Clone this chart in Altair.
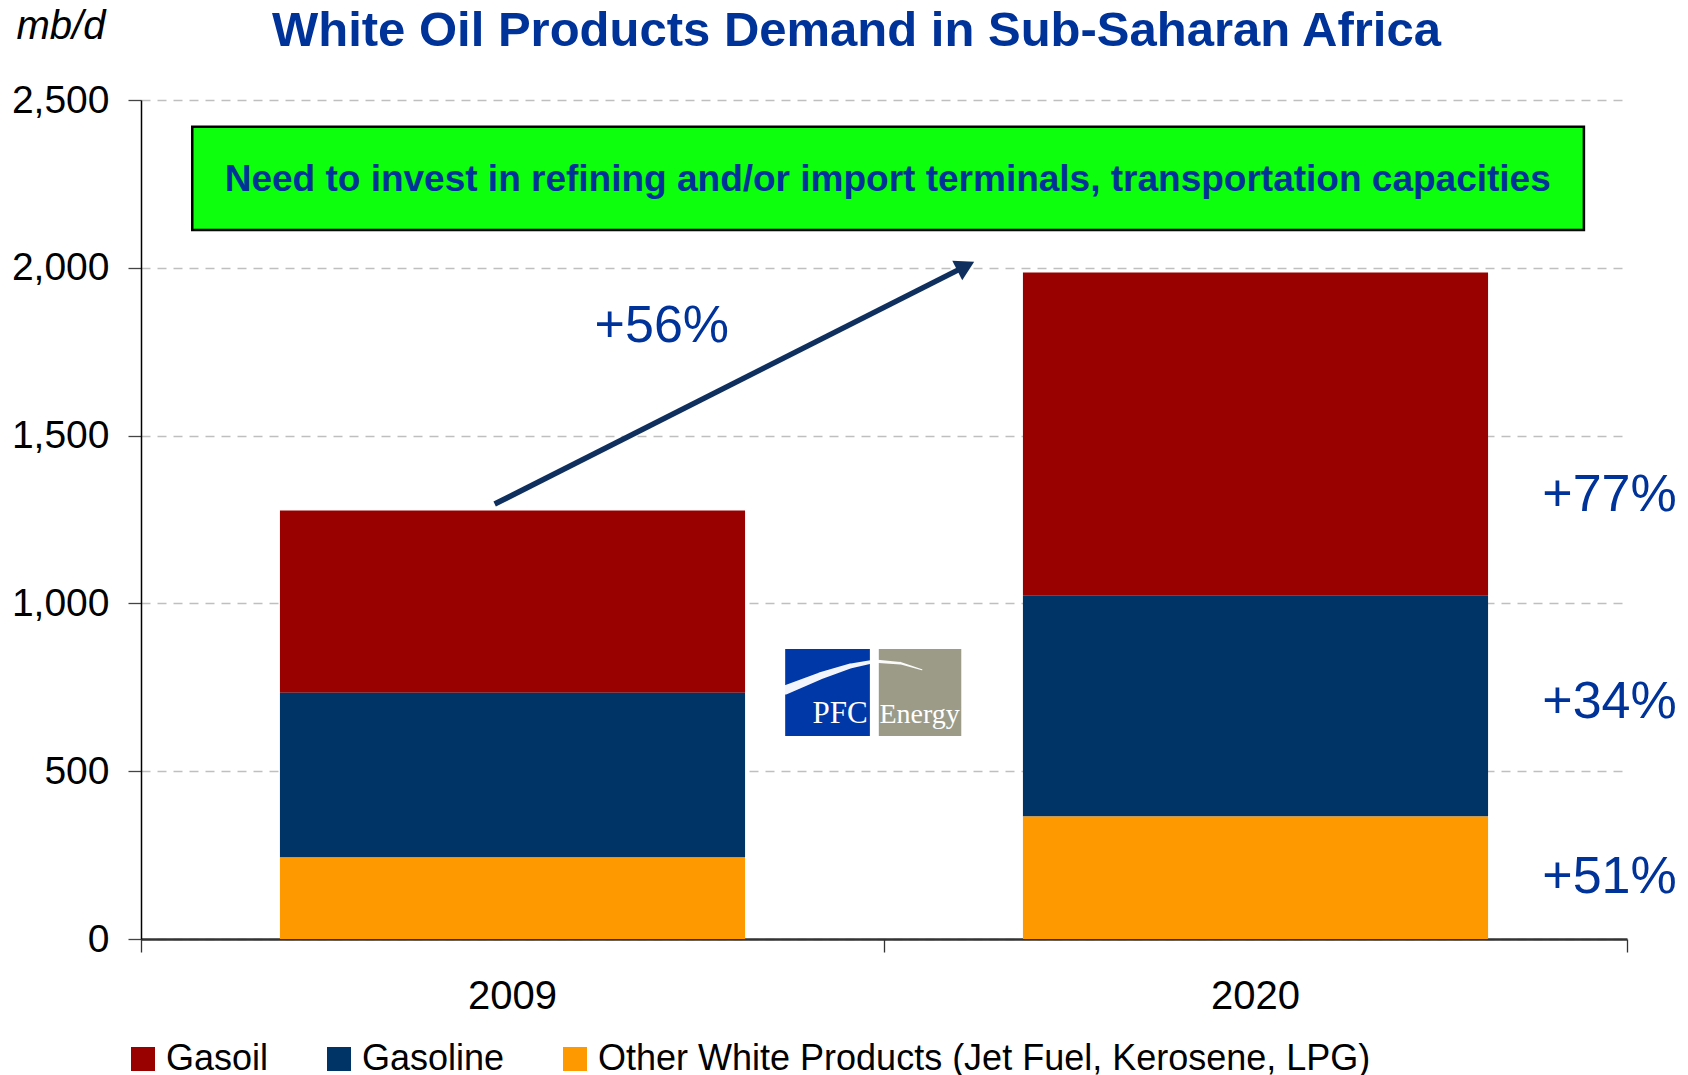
import altair as alt
import pandas as pd

# ---------------- data ----------------
years = ["2009", "2020"]
products = ["Gasoil", "Gasoline", "Other White Products (Jet Fuel, Kerosene, LPG)"]
gasoil = [543, 963]
gasoline = [491, 658]
other = [243, 365]
stack_rank = [3, 2, 1]          # Gasoil on top, Other at the bottom
colors = ["#990000", "#003366", "#FF9900"]

growth_labels = ["+77%", "+34%", "+51%"]
growth_x = [1.886, 1.886, 1.886]
growth_y = [1324, 705, 185]

total_label = ["+56%"]
total_label_x = [0.701]
total_label_y = [1827]

arrow_x = [0.476]
arrow_x2 = [1.11]
arrow_y = [1296]
arrow_y2 = [2005]

banner_text = ["Need to invest in refining and/or import terminals, transportation capacities"]
banner_x = [0.069]
banner_x2 = [1.942]
banner_y = [2113]
banner_y2 = [2420]
banner_text_x = [1.005]
banner_text_y = [2262]

logo_blue_x = [0.867]
logo_blue_x2 = [0.981]
logo_grey_x = [0.993]
logo_grey_x2 = [1.104]
logo_y = [605]
logo_y2 = [864]
logo_curve_x = [0.867, 0.914, 0.954, 0.988, 1.022, 1.051]
logo_curve_y = [742, 784, 813, 828, 822, 802]
logo_curve_w = [9, 7, 5, 3.5, 2.5, 1]
logo_words = ["PFC", "Energy"]
logo_words_x = [0.941, 1.048]
logo_words_y = [644, 644]
logo_words_size = [31, 28]

title_text = "White Oil Products Demand in Sub-Saharan Africa"

# ---------------- tables ----------------
rows = []
for i, yr in enumerate(years):
    for p, vals, r in zip(products, [gasoil, gasoline, other], stack_rank):
        rows.append({"year": yr, "product": p, "value": vals[i], "rank": r})
bars_df = pd.DataFrame(rows)

BLUE_TXT = "#003399"
XQ = alt.Scale(domain=[0, 2], nice=False, zero=False)
YQ = alt.Scale(domain=[0, 2500], nice=False)

Y_AXIS = alt.Axis(values=[0, 500, 1000, 1500, 2000, 2500],
                  labelExpr="format(datum.value, ',')",
                  labelFontSize=39, labelColor="black", labelPadding=19,
                  tickSize=13, tickColor="#444444", tickWidth=1.3,
                  domainColor="black", domainWidth=1.5,
                  grid=True, gridColor="#BFBFBF", gridDash=[9, 7], gridWidth=1.3,
                  title="mb/d", titleAngle=0, titleAlign="left", titleBaseline="alphabetic",
                  titleX=-125, titleY=-62, titleFontSize=40, titleFontStyle="italic",
                  titleFontWeight="normal", titleColor="black")


def qy(field):
    return alt.Y(field, scale=YQ, axis=Y_AXIS)


def qx(field):
    return alt.X(field, scale=XQ, axis=None)


bars = alt.Chart(bars_df).mark_bar().encode(
    x=alt.X("year:N", sort=years,
            scale=alt.Scale(paddingInner=0.374, paddingOuter=0.187),
            axis=alt.Axis(orient="bottom", title=None, labelAngle=0, ticks=False, tickSize=0,
                          labelPadding=37, labelFontSize=40, labelColor="black",
                          domainColor="#333333", domainWidth=2.5)),
    y=alt.Y("value:Q", stack="zero", scale=YQ, axis=Y_AXIS),
    color=alt.Color("product:N", scale=alt.Scale(domain=products, range=colors),
                    legend=alt.Legend(title=None, orient="none", legendX=-16, legendY=941,
                                      direction="horizontal", columns=3, columnPadding=52,
                                      symbolType="square", symbolSize=576, symbolStrokeWidth=0,
                                      symbolOpacity=1, labelFontSize=36, labelOffset=5,
                                      labelLimit=2000, labelColor="black", padding=0)),
    order=alt.Order("rank:Q", sort="ascending"),
)

banner_df = pd.DataFrame({"x": banner_x, "x2": banner_x2, "y": banner_y, "y2": banner_y2})
banner = alt.Chart(banner_df).mark_rect(fill="#0DFF0D", stroke="black", strokeWidth=2.5).encode(
    x=alt.X("x:Q", scale=XQ,
            axis=alt.Axis(orient="bottom", values=[0, 1, 2], labels=False, domain=False,
                          grid=False, ticks=True, tickSize=13, tickColor="#333333",
                          tickWidth=1.3, title=None)),
    x2="x2:Q",
    y=qy("y:Q"),
    y2="y2:Q",
)

banner_txt_df = pd.DataFrame({"x": banner_text_x, "y": banner_text_y, "t": banner_text})
banner_txt = alt.Chart(banner_txt_df).mark_text(
    font="Liberation Sans", fontWeight="bold",
    fontSize=37, color=BLUE_TXT, align="center", baseline="middle").encode(
    x=qx("x:Q"), y=qy("y:Q"), text="t:N",
)

arrow_df = pd.DataFrame({"x": arrow_x, "x2": arrow_x2, "y": arrow_y, "y2": arrow_y2})
arrow = alt.Chart(arrow_df).mark_rule(color="#0F2F5F", strokeWidth=5.5).encode(
    x=qx("x:Q"), x2="x2:Q", y=qy("y:Q"), y2="y2:Q",
)
arrow_head = alt.Chart(arrow_df).mark_point(shape="triangle-up", filled=True, size=480,
                                            angle=63, color="#0F2F5F", opacity=1).encode(
    x=qx("x2:Q"), y=qy("y2:Q"),
)

total_df = pd.DataFrame({"x": total_label_x, "y": total_label_y, "t": total_label})
total_txt = alt.Chart(total_df).mark_text(fontSize=52, color=BLUE_TXT, align="center",
                                          baseline="middle").encode(
    x=qx("x:Q"), y=qy("y:Q"), text="t:N",
)

growth_df = pd.DataFrame({"x": growth_x, "y": growth_y, "t": growth_labels})
growth_txt = alt.Chart(growth_df).mark_text(fontSize=52, color=BLUE_TXT, align="left",
                                            baseline="middle").encode(
    x=qx("x:Q"), y=qy("y:Q"), text="t:N",
)

blue_df = pd.DataFrame({"x": logo_blue_x, "x2": logo_blue_x2, "y": logo_y, "y2": logo_y2})
logo_blue = alt.Chart(blue_df).mark_rect(fill="#0038A8").encode(
    x=qx("x:Q"), x2="x2:Q", y=qy("y:Q"), y2="y2:Q",
)
grey_df = pd.DataFrame({"x": logo_grey_x, "x2": logo_grey_x2, "y": logo_y, "y2": logo_y2})
logo_grey = alt.Chart(grey_df).mark_rect(fill="#9B9B88").encode(
    x=qx("x:Q"), x2="x2:Q", y=qy("y:Q"), y2="y2:Q",
)
curve_df = pd.DataFrame({"x": logo_curve_x, "y": logo_curve_y, "w": logo_curve_w})
logo_curve = alt.Chart(curve_df).mark_trail(color="white", opacity=0.95).encode(
    x=qx("x:Q"), y=qy("y:Q"),
    size=alt.Size("w:Q", scale=None, legend=None),
)
words_df = pd.DataFrame({"x": logo_words_x, "y": logo_words_y, "t": logo_words,
                         "s": logo_words_size})
logo_words_mk = alt.Chart(words_df).mark_text(font="Liberation Serif", color="white",
                                              align="center", baseline="alphabetic").encode(
    x=qx("x:Q"), y=qy("y:Q"), text="t:N",
    size=alt.Size("s:Q", scale=None, legend=None),
)

chart = alt.layer(
    bars, banner, banner_txt, arrow, arrow_head, total_txt, growth_txt,
    logo_blue, logo_grey, logo_curve, logo_words_mk,
).resolve_scale(
    x="independent"
).properties(
    width=1486,
    height=839,
    autosize=alt.AutoSizeParams(type="none"),
    padding={"left": 133, "top": 92, "right": 53, "bottom": 136},
    title=alt.TitleParams(text=title_text, font="Liberation Sans", fontSize=49,
                          fontWeight="bold", color=BLUE_TXT, anchor="start", frame="group",
                          offset=0, dx=131, dy=89, baseline="alphabetic"),
).configure(
    font="Liberation Sans",
    background="white",
).configure_view(
    stroke=None,
)

chart.save("out.html", embed_options={"renderer": "svg", "actions": False})
